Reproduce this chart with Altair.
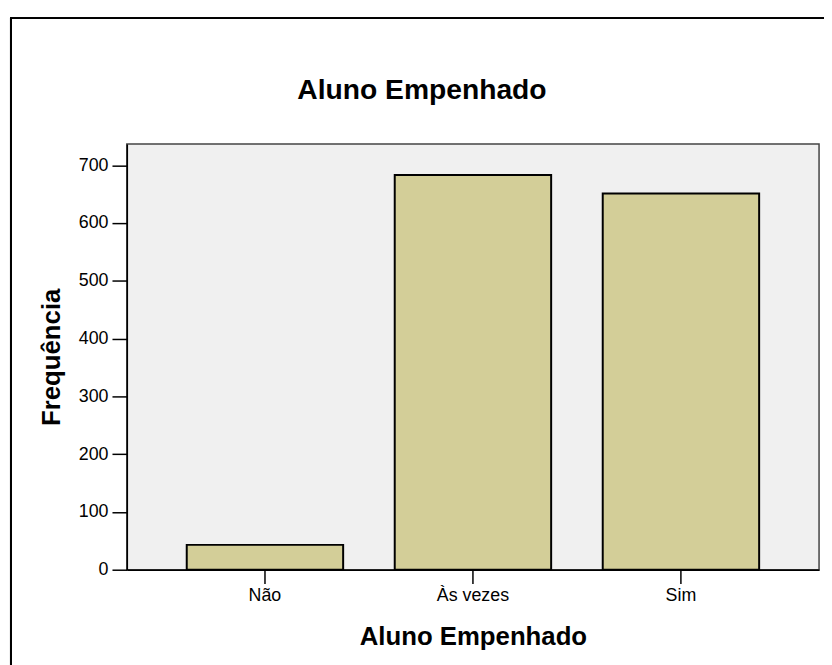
import altair as alt
import pandas as pd

categories = ["Não", "Às vezes", "Sim"]
counts = [43, 683, 651]
y_ticks = [0, 100, 200, 300, 400, 500, 600, 700]
chart_title = "Aluno Empenhado"

df = pd.DataFrame({"cat": categories, "n": counts})

FONT = "Liberation Sans"

bars = alt.Chart(df).mark_bar(
    fill="#d3ce98", stroke="#000000", strokeWidth=2
).encode(
    x=alt.X("cat:N", sort=categories,
            scale=alt.Scale(paddingInner=0.248, paddingOuter=0.288),
            axis=alt.Axis(title="Aluno Empenhado", labelAngle=0,
                          titleFontSize=26, titleFont=FONT, titleFontWeight="bold",
                          titleColor="#000", titlePadding=20,
                          labelFontSize=18, labelFont=FONT, labelColor="#000",
                          labelPadding=3, tickSize=14, tickWidth=1.5, tickColor="#000",
                          domainColor="#000", domainWidth=1.5)),
    y=alt.Y("n:Q", scale=alt.Scale(domain=[0, 737], nice=False),
            axis=alt.Axis(title="Frequência", values=y_ticks, grid=False,
                          titleFontSize=26, titleFont=FONT, titleFontWeight="bold",
                          titleColor="#000", titlePadding=14,
                          labelFontSize=18, labelFont=FONT, labelColor="#000",
                          labelPadding=4, tickSize=15, tickWidth=1.5, tickColor="#000",
                          domainColor="#000", domainWidth=1.5)),
)

title_text = alt.Chart(pd.DataFrame({"t": [chart_title]})).mark_text(
    font=FONT, fontSize=28.5, fontWeight="bold", color="#000",
    align="center", baseline="alphabetic", clip=False
).encode(text="t:N", x=alt.value(298), y=alt.value(-45))

frame_top = alt.Chart(df).mark_rule(color="#000", strokeWidth=2, clip=False).encode(
    x=alt.value(-117), x2=alt.value(760), y=alt.value(-127)
)
frame_left = alt.Chart(df).mark_rule(color="#000", strokeWidth=2, clip=False).encode(
    x=alt.value(-117), y=alt.value(-128), y2=alt.value(560)
)

chart = alt.layer(bars, title_text, frame_top, frame_left).properties(
    width=699, height=430,
    autosize=alt.AutoSizeParams(type="none"),
    padding={"left": 120, "top": 134, "right": 5, "bottom": 93},
    background="#ffffff",
).configure_view(fill="#f0f0f0", stroke="#444444", strokeWidth=1.5)

chart.save("out.html", embed_options={"renderer": "svg", "actions": False})
